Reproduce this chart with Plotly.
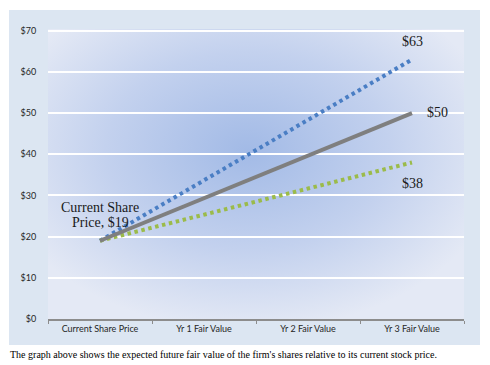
import base64
import plotly.graph_objects as go

categories = ["Current Share Price", "Yr 1 Fair Value", "Yr 2 Fair Value", "Yr 3 Fair Value"]
series_x = ["Current Share Price", "Yr 3 Fair Value"]
high_values = [19, 63]
base_values = [19, 50]
low_values = [19, 38]
y_ticks = [0, 10, 20, 30, 40, 50, 60, 70]
y_tick_labels = ["$" + str(v) for v in y_ticks]
caption = "The graph above shows the expected future fair value of the firm's shares relative to its current stock price."

# page has an 8px body margin, so the figure is drawn 8px in from the top-left
OFF = 8
W, H = 482, 357
L, R, T, B = 40, 26, 21, 46
PW, PH = W - L - R, H - T - B

def px_x(p):
    return (p - OFF - L) / PW

def px_y(p):
    return (H - B - (p - OFF)) / PH

def svg_uri(svg):
    return "data:image/svg+xml;base64," + base64.b64encode(svg.encode()).decode()

outer_svg = (
    '<svg xmlns="http://www.w3.org/2000/svg" width="100" height="100" viewBox="0 0 100 100" preserveAspectRatio="none">'
    '<rect x="0" y="0" width="100" height="100" fill="#dce6f2"/></svg>'
)
grad_svg = (
    '<svg xmlns="http://www.w3.org/2000/svg" width="416" height="290" viewBox="0 0 416 290" preserveAspectRatio="none">'
    '<defs><radialGradient id="g" cx="0.48" cy="0.42" r="0.62">'
    '<stop offset="0" stop-color="#a2bae6"/><stop offset="0.55" stop-color="#c3d1ee"/>'
    '<stop offset="1" stop-color="#e4e9f5"/></radialGradient></defs>'
    '<rect x="0" y="0" width="416" height="290" fill="url(#g)"/></svg>'
)

fig = go.Figure()
fig.add_trace(go.Scatter(x=series_x, y=high_values, mode="lines",
                         line=dict(color="#4a7ec4", width=4, dash="3.5px,3.6px"), showlegend=False))
fig.add_trace(go.Scatter(x=series_x, y=low_values, mode="lines",
                         line=dict(color="#9bbb4a", width=4, dash="3.5px,3.6px"), showlegend=False))
fig.add_trace(go.Scatter(x=series_x, y=base_values, mode="lines",
                         line=dict(color="#7f7f7f", width=4), showlegend=False))

serif = dict(family="Liberation Serif, Times New Roman, serif", size=14, color="#1a1a1a")
fig.add_annotation(x=categories[3], y=67.3, text="$" + str(high_values[1]), showarrow=False, font=serif)
fig.add_annotation(x=categories[3], y=50.1, xshift=25, text="$" + str(base_values[1]), showarrow=False, font=serif)
fig.add_annotation(x=categories[3], y=32.8, text="$" + str(low_values[1]), showarrow=False, font=serif)
fig.add_annotation(x=categories[0], y=27.0, text="Current Share", showarrow=False, font=serif)
fig.add_annotation(x=categories[0], y=23.4, text="Price, $" + str(high_values[0]), showarrow=False, font=serif)
fig.add_annotation(xref="paper", yref="paper", x=px_x(8), y=px_y(354), xanchor="left", yanchor="middle",
                   text=caption, showarrow=False,
                   font=dict(family="Liberation Serif, Times New Roman, serif", size=10, color="#000000"))

fig.add_layout_image(source=svg_uri(outer_svg), xref="paper", yref="paper",
                     x=px_x(9), y=px_y(10), sizex=px_x(480) - px_x(9), sizey=px_y(10) - px_y(345),
                     xanchor="left", yanchor="top", sizing="stretch", layer="below")
fig.add_layout_image(source=svg_uri(grad_svg), xref="paper", yref="paper", x=0, y=1, sizex=1, sizey=1,
                     xanchor="left", yanchor="top", sizing="stretch", layer="below")

tickfont = dict(family="Lato, Open Sans, sans-serif", size=9, color="#262626")
fig.update_layout(
    width=W, height=H, margin=dict(l=L, r=R, t=T, b=B),
    paper_bgcolor="white", plot_bgcolor="rgba(0,0,0,0)",
    xaxis=dict(type="category", categoryorder="array", categoryarray=categories,
               range=[-0.5, 3.5], showgrid=False, showline=True, linecolor="#8c8c8c", linewidth=1.5,
               ticks="outside", tickson="boundaries", ticklen=3, tickcolor="#8c8c8c",
               tickfont=tickfont, zeroline=False),
    yaxis=dict(range=[0, 70.4], tickvals=y_ticks, ticktext=y_tick_labels, showgrid=True,
               gridcolor="white", gridwidth=1.5, zeroline=False, showline=False,
               tickfont=tickfont, ticks="outside", ticklen=9, tickcolor="rgba(0,0,0,0)"),
)
fig.write_html("out.html")
